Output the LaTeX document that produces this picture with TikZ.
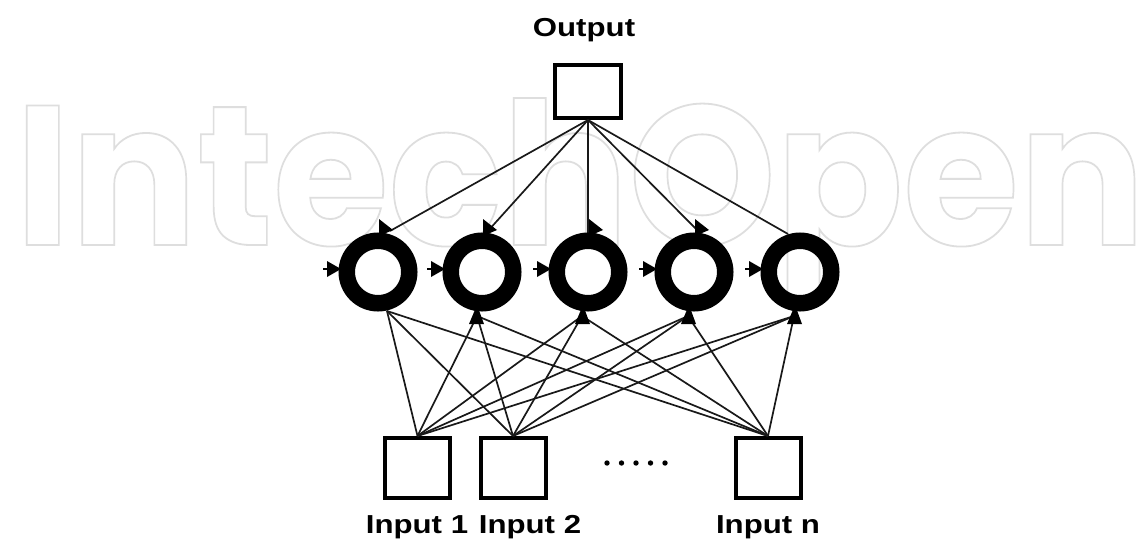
\documentclass[tikz,border=0pt]{standalone}
\usepackage{fontspec}
\setmainfont{Liberation Sans}
\newfontfamily\wmfont{Poppins}
\usepackage{graphicx}
\begin{document}
\begin{tikzpicture}[x=1pt,y=-1pt,
  box/.style={draw=black, line width=4pt, fill=white, inner sep=0pt},
  ring/.style={circle, draw=black, line width=16.5pt, minimum size=62.5pt, inner sep=0pt},
  link/.style={draw=black!90, line width=1.7pt},
  lbl/.style={font=\bfseries\fontsize{26}{30}\selectfont, inner sep=0pt, anchor=base},
  tipmark/.style={fill=black, draw=none}
]
\useasboundingbox[fill=white] (0,0) rectangle (1145,543);
% watermark
\begin{scope}
\node[anchor=base west, inner sep=0pt, text=black!13] (wm) at (15,245)
  {\resizebox{1130pt}{147pt}{\wmfont\bfseries\fontsize{200}{200}\selectfont\special{pdf:literal direct 1 Tr 1.8 w}IntechOpen\special{pdf:literal direct 0 Tr}}};
\end{scope}
% boxes
\node[box, minimum width=66pt, minimum height=53pt] (out) at (588,91.5) {};
\node[box, minimum width=65pt, minimum height=60pt] (in1) at (417.5,468) {};
\node[box, minimum width=65pt, minimum height=60pt] (in2) at (513,468) {};
\node[box, minimum width=65pt, minimum height=60pt] (inn) at (768,468) {};
% ring attachment points
\coordinate (t1) at (390,231); \coordinate (b1) at (387,311);
\coordinate (t2) at (487,232); \coordinate (b2) at (477,316);
\coordinate (t3) at (588,234); \coordinate (b3) at (582,316);
\coordinate (t4) at (699,232); \coordinate (b4) at (688,316);
\coordinate (t5) at (788,234); \coordinate (b5) at (794,316);
% connectors
\foreach \i in {1,...,5} {
  \draw[link] (out.south) -- (t\i);
  \draw[link] (in1.north) -- (b\i);
  \draw[link] (in2.north) -- (b\i);
  \draw[link] (inn.north) -- (b\i);
}
% hidden neurons
\foreach \i/\x in {1/378,2/482,3/588,4/694,5/800} {
  \node[ring] (h\i) at (\x,272) {};
  \fill[tipmark] (\x-51,261) -- (\x-51,277) -- (\x-37,269) -- cycle;
  \draw[line width=2.5pt] (\x-55,269) -- (\x-50,269);
}
\foreach \x in {378,482,588,694} {
  \fill[tipmark] (\x+1,219) -- (\x+1,236) -- (\x+15,230) -- cycle;
}
\foreach \x in {482,588,694,800} {
  \fill[tipmark] (\x-13,324) -- (\x+2,324) -- (\x-5,305) -- cycle;
}
% dots
\foreach \k in {0,...,4} \fill (607+14.5*\k,463) circle (2.7);
% labels
\node[lbl] (lout) at (584,37) {\scalebox{1.2}[1]{Output}};
\node[lbl] (lin1) at (417,533) {\scalebox{1.2}[1]{Input 1}};
\node[lbl] (lin2) at (530,533) {\scalebox{1.2}[1]{Input 2}};
\node[lbl] (linn) at (768,533) {\scalebox{1.2}[1]{Input n}};
\end{tikzpicture}
\end{document}
